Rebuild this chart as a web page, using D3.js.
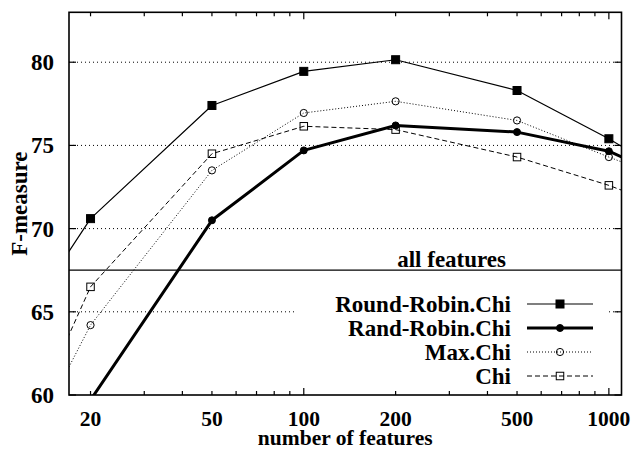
<!DOCTYPE html>
<html>
<head>
<meta charset="utf-8">
<script src="https://cdn.jsdelivr.net/npm/d3@7"></script>
<style>
  html, body { margin: 0; padding: 0; background: #fff; }
  svg text { font-family: "Liberation Serif", "Times New Roman", serif; font-weight: bold; fill: #000; }
</style>
</head>
<body>
<svg id="chart" width="633" height="450"></svg>
<script>
// Number of selected features (points at 10 and 2000 lie outside the visible range)
const features = [10, 20, 50, 100, 200, 500, 1000, 2000];

// F-measure per selection method
const roundRobinChi = [62.2, 70.6, 77.4, 79.45, 80.15, 78.3, 75.4, 72.1];
const randRobinChi  = [null, 59.7, 70.5, 74.7, 76.2, 75.8, 74.65, 72.2];
const maxChi        = [53.5, 64.2, 73.5, 76.95, 77.65, 76.5, 74.3, 72.2];
const chi           = [54.2, 66.5, 74.5, 76.15, 75.95, 74.3, 72.6, 70.5];

// Baseline using all features
const allFeatures = 67.5;

const xTickValues = [20, 50, 100, 200, 500, 1000];
const xMinorTicks = [20, 30, 40, 50, 60, 70, 80, 90, 200, 300, 400, 500, 600, 700, 800, 900];
const xMajorTicks = [100, 1000];
const yTickValues = [60, 65, 70, 75, 80];
const yGridValues = [65, 70, 75, 80];

const seriesNames = ["Round-Robin.Chi", "Rand-Robin.Chi", "Max.Chi", "Chi"];

const series = [
  { name: seriesNames[0], values: roundRobinChi, width: 1.2, dash: null, marker: "square", filled: true },
  { name: seriesNames[1], values: randRobinChi, width: 3, dash: null, marker: "circle", filled: true },
  { name: seriesNames[2], values: maxChi, width: 1, dash: "1,2", marker: "circle", filled: false },
  { name: seriesNames[3], values: chi, width: 1, dash: "5,3", marker: "square", filled: false }
];

const W = 633, H = 450;
const margin = { left: 69, right: 11.5, top: 12.3, bottom: 55 };
const x0 = margin.left, x1 = W - margin.right, y0 = H - margin.bottom, y1 = margin.top;

const x = d3.scaleLog().domain([17, 1100]).range([x0, x1]);
const y = d3.scaleLinear().domain([60, 83]).range([y0, y1]);

const svg = d3.select("#chart");
const FS = 23;
const FS_X = 21.5;

svg.append("defs").append("clipPath").attr("id", "plotClip")
  .append("rect").attr("x", x0).attr("y", y1).attr("width", x1 - x0).attr("height", y0 - y1);

// Dotted horizontal grid
svg.append("g").selectAll("line").data(yGridValues).join("line")
  .attr("x1", x0).attr("x2", x1)
  .attr("y1", d => y(d)).attr("y2", d => y(d))
  .attr("stroke", "#000").attr("stroke-width", 1).attr("stroke-dasharray", "1,3");

// Legend background masks the grid
svg.append("rect").attr("x", 295).attr("y", 290).attr("width", 313).attr("height", 100).attr("fill", "#fff");

// "all features" reference line
svg.append("line")
  .attr("x1", x0).attr("x2", x1)
  .attr("y1", y(allFeatures)).attr("y2", y(allFeatures))
  .attr("stroke", "#000").attr("stroke-width", 1.2);
svg.append("text").attr("x", 506).attr("y", y(allFeatures) - 3)
  .attr("text-anchor", "end").attr("font-size", FS).text("all features");

// Axes: ticks on all four sides
const axes = svg.append("g");
const tickLine = (xa, ya, xb, yb) => axes.append("line")
  .attr("x1", xa).attr("y1", ya).attr("x2", xb).attr("y2", yb)
  .attr("stroke", "#000").attr("stroke-width", 1.2);

xMinorTicks.forEach(v => { tickLine(x(v), y0, x(v), y0 - 4); tickLine(x(v), y1, x(v), y1 + 4); });
xMajorTicks.forEach(v => { tickLine(x(v), y0, x(v), y0 - 7); tickLine(x(v), y1, x(v), y1 + 7); });
yTickValues.forEach(v => { tickLine(x0, y(v), x0 + 7, y(v)); tickLine(x1, y(v), x1 - 7, y(v)); });

axes.selectAll("text.xt").data(xTickValues).join("text").attr("class", "xt")
  .attr("x", d => x(d)).attr("y", 426).attr("text-anchor", "middle")
  .attr("font-size", FS_X).text(d => d);

axes.selectAll("text.yt").data(yTickValues).join("text").attr("class", "yt")
  .attr("x", 54).attr("y", d => y(d) + 8).attr("text-anchor", "end")
  .attr("font-size", FS).text(d => d);

svg.append("text").attr("x", (x0 + x1) / 2).attr("y", 445).attr("text-anchor", "middle")
  .attr("font-size", FS_X).text("number of features");
svg.append("text").attr("transform", `translate(27,${(y0 + y1) / 2}) rotate(-90)`)
  .attr("text-anchor", "middle").attr("font-size", FS).text("F-measure");

// Series lines and markers
const plot = svg.append("g").attr("clip-path", "url(#plotClip)");

function drawMarker(g, type, filled, cx, cy) {
  if (type === "square") {
    const s = filled ? 8 : 7.5;
    g.append("rect").attr("x", cx - s / 2).attr("y", cy - s / 2).attr("width", s).attr("height", s)
      .attr("fill", filled ? "#000" : "none").attr("stroke", "#000").attr("stroke-width", 1);
  } else {
    const r = filled ? 3.5 : 3.6;
    g.append("circle").attr("cx", cx).attr("cy", cy).attr("r", r)
      .attr("fill", filled ? "#000" : "none").attr("stroke", "#000").attr("stroke-width", 1);
  }
}

series.forEach(s => {
  const pts = features.map((f, i) => ({ f, v: s.values[i] })).filter(p => p.v !== null);
  const line = d3.line().x(p => x(p.f)).y(p => y(p.v));
  plot.append("path").attr("d", line(pts)).attr("fill", "none")
    .attr("stroke", "#000").attr("stroke-width", s.width)
    .attr("stroke-dasharray", s.dash).attr("stroke-linejoin", "round");
  const mg = plot.append("g");
  pts.forEach(p => drawMarker(mg, s.marker, s.filled, x(p.f), y(p.v)));
});

// Legend
const legendY = [304, 328, 352, 376];
const legend = svg.append("g");
series.forEach((s, i) => {
  const ly = legendY[i];
  legend.append("text").attr("x", 511).attr("y", ly + 8).attr("text-anchor", "end")
    .attr("font-size", FS).text(s.name);
  legend.append("line").attr("x1", 527).attr("x2", 593).attr("y1", ly).attr("y2", ly)
    .attr("stroke", "#000").attr("stroke-width", s.width).attr("stroke-dasharray", s.dash);
  drawMarker(legend, s.marker, s.filled, 560, ly);
});

// Plot frame
svg.append("rect").attr("x", x0).attr("y", y1).attr("width", x1 - x0).attr("height", y0 - y1)
  .attr("fill", "none").attr("stroke", "#000").attr("stroke-width", 1.6);
</script>
</body>
</html>
